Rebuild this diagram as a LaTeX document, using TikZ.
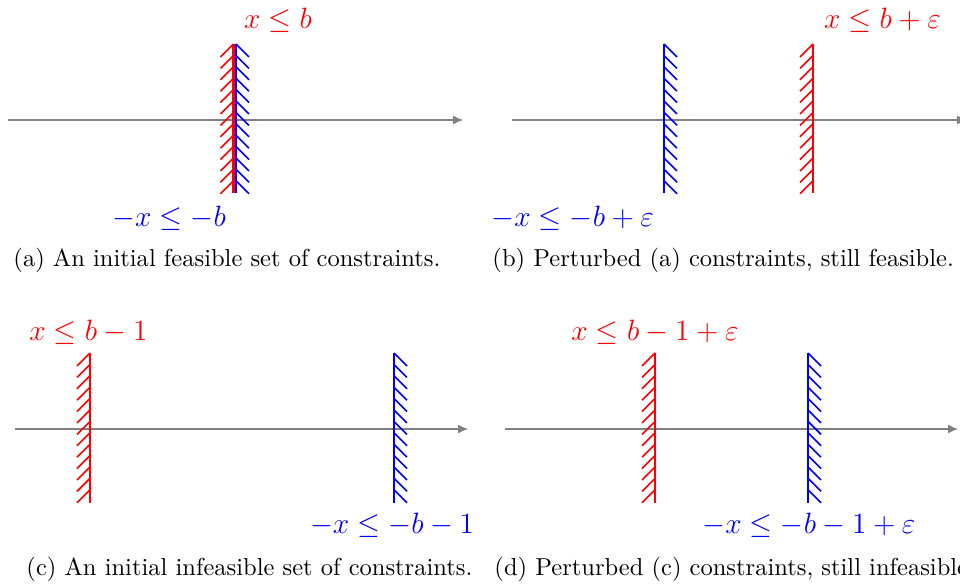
\documentclass[tikz,border=0pt]{standalone}
\usetikzlibrary{arrows.meta,decorations.pathreplacing}

\begin{document}
\begin{tikzpicture}[x=0.408pt,y=0.408pt]
\tikzset{
  axisline/.style={draw=gray,line width=0.5pt,-{Latex[length=4pt,width=3.6pt]}},
  hatched/.style={line width=0.85pt,postaction={draw,line width=0.65pt,decorate,decoration={border,segment length=4.65pt,amplitude=7.5pt,angle=#1}}},
  upperbound/.style={draw=red,hatched=-45},
  lowerbound/.style={draw=blue,hatched=45},
  boundlabel/.style={font=\large,inner sep=0pt},
  subcaption/.style={anchor=base west,inner sep=0pt}
}
\useasboundingbox (0,0) rectangle (960,586);
% (a) feasible
\coordinate (a_ax0) at (8,466);
\coordinate (a_ax1) at (463,466);
\coordinate (a_up0) at (233.5,542);
\coordinate (a_up1) at (233.5,393);
\coordinate (a_lo0) at (236,542);
\coordinate (a_lo1) at (236,393);
\node[boundlabel,text=red] (a_uplbl) at (278,566) {$x \leq b$};
\node[boundlabel,text=blue] (a_lolbl) at (169,368) {$-x \leq -b$};
\node[subcaption] (a_cap) at (13,320) {(a) An initial feasible set of constraints.};
% (b) feasible, perturbed
\coordinate (b_ax0) at (512,466);
\coordinate (b_ax1) at (967,466);
\coordinate (b_up0) at (813,542);
\coordinate (b_up1) at (813,393);
\coordinate (b_lo0) at (664,542);
\coordinate (b_lo1) at (664,393);
\node[boundlabel,text=red] (b_uplbl) at (882.5,566) {$x \leq b + \varepsilon$};
\node[boundlabel,text=blue] (b_lolbl) at (572.7,368) {$-x \leq -b + \varepsilon$};
\node[subcaption] (b_cap) at (492,320) {(b) Perturbed (a) constraints, still feasible.};
% (c) infeasible
\coordinate (c_ax0) at (15,157);
\coordinate (c_ax1) at (468,157);
\coordinate (c_up0) at (90,233);
\coordinate (c_up1) at (90,83);
\coordinate (c_lo0) at (394,233);
\coordinate (c_lo1) at (394,83);
\node[boundlabel,text=red] (c_uplbl) at (88.5,254) {$x \leq b - 1$};
\node[boundlabel,text=blue] (c_lolbl) at (392,61) {$-x \leq -b - 1$};
\node[subcaption] (c_cap) at (26,11) {(c) An initial infeasible set of constraints.};
% (d) infeasible, perturbed
\coordinate (d_ax0) at (505,157);
\coordinate (d_ax1) at (958,157);
\coordinate (d_up0) at (655,233);
\coordinate (d_up1) at (655,83);
\coordinate (d_lo0) at (808,233);
\coordinate (d_lo1) at (808,83);
\node[boundlabel,text=red] (d_uplbl) at (655,254) {$x \leq b - 1 + \varepsilon$};
\node[boundlabel,text=blue] (d_lolbl) at (809,61) {$-x \leq -b - 1 + \varepsilon$};
\node[subcaption] (d_cap) at (494,11) {(d) Perturbed (c) constraints, still infeasible.};
% axes and bounds
\draw[axisline] (a_ax0) -- (a_ax1);
\draw[axisline] (b_ax0) -- (b_ax1);
\draw[axisline] (c_ax0) -- (c_ax1);
\draw[axisline] (d_ax0) -- (d_ax1);
\draw[upperbound] (a_up0) -- (a_up1);
\draw[lowerbound] (a_lo0) -- (a_lo1);
\draw[upperbound] (b_up0) -- (b_up1);
\draw[lowerbound] (b_lo0) -- (b_lo1);
\draw[upperbound] (c_up0) -- (c_up1);
\draw[lowerbound] (c_lo0) -- (c_lo1);
\draw[upperbound] (d_up0) -- (d_up1);
\draw[lowerbound] (d_lo0) -- (d_lo1);
\end{tikzpicture}
\end{document}
